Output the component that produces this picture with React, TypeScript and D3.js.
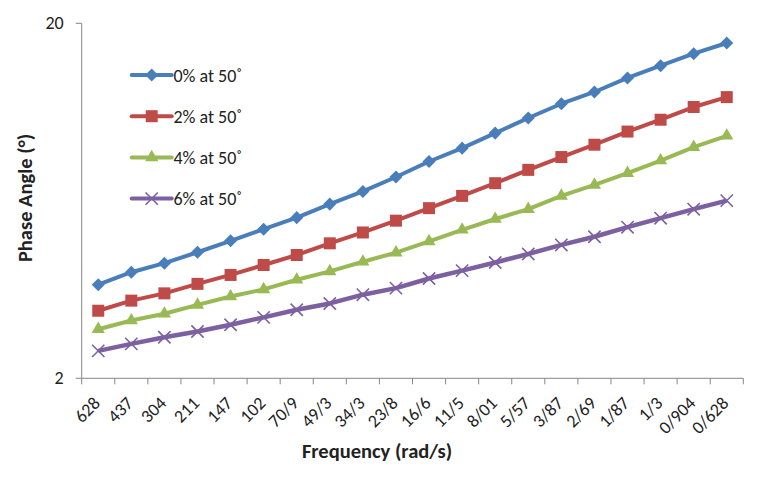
import React, { useEffect, useRef } from "react";
import * as d3 from "d3";

// frequency categories (rad/s), as printed on the axis
const frequencies = [
  "628", "437", "304", "211", "147", "102", "70/9", "49/3", "34/3", "23/8",
  "16/6", "11/5", "8/01", "5/57", "3/87", "2/69", "1/87", "1/3", "0/904", "0/628",
];

// phase angle (deg)
const phase0 = [3.67, 3.98, 4.22, 4.53, 4.88, 5.26, 5.67, 6.19, 6.72, 7.38, 8.16, 8.9, 9.81, 10.82, 11.87, 12.81, 14.03, 15.19, 16.42, 17.6];
const phase2 = [3.1, 3.31, 3.47, 3.69, 3.91, 4.17, 4.45, 4.8, 5.15, 5.56, 6.03, 6.53, 7.09, 7.73, 8.4, 9.1, 9.91, 10.7, 11.62, 12.39];
const phase4 = [2.75, 2.91, 3.04, 3.22, 3.4, 3.56, 3.79, 4.0, 4.26, 4.52, 4.86, 5.24, 5.62, 5.99, 6.53, 7.01, 7.57, 8.21, 8.96, 9.64];
const phase6 = [2.39, 2.5, 2.61, 2.71, 2.83, 2.97, 3.12, 3.25, 3.44, 3.59, 3.82, 4.02, 4.24, 4.48, 4.75, 5.01, 5.33, 5.65, 5.99, 6.33];

const seriesNames = ["0% at 50˚", "2% at 50˚", "4% at 50˚", "6% at 50˚"];
const yTicks = [2, 20];

const colors = ["#4a7ebb", "#be4b48", "#98b954", "#7d60a0"];
const axisColor = "#868686";
const font = "Carlito, Calibri, 'Liberation Sans', Arial, sans-serif";

let width = 761,
  height = 484;
let margin = { top: 23.3, right: 17.7, bottom: 105.7, left: 81.7 };

let drawChart = (node: SVGSVGElement) => {
  const svg = d3.select(node);
  svg.selectAll("*").remove();

  const series = [phase0, phase2, phase4, phase6];

  let xScale = d3.scaleBand<string>()
    .domain(frequencies)
    .range([margin.left, width - margin.right])
    .padding(0);
  let yScale = d3.scaleLog()
    .domain([2, 20])
    .range([height - margin.bottom, margin.top]);

  const x0 = margin.left,
    x1 = width - margin.right,
    yb = height - margin.bottom;

  // y axis
  let gy = svg.append("g");
  gy.append("line")
    .attr("x1", x0).attr("x2", x0)
    .attr("y1", yScale(20)).attr("y2", yb)
    .attr("stroke", axisColor).attr("stroke-width", 1);
  gy.selectAll(".ytick")
    .data(yTicks)
    .enter()
    .append("line")
    .attr("x1", x0 - 6).attr("x2", x0)
    .attr("y1", d => yScale(d)).attr("y2", d => yScale(d))
    .attr("stroke", axisColor);
  gy.selectAll(".ylab")
    .data(yTicks)
    .enter()
    .append("text")
    .attr("x", x0 - 18)
    .attr("y", d => yScale(d) + 6)
    .attr("text-anchor", "end")
    .attr("font-family", font)
    .attr("font-size", 18)
    .attr("fill", "#222")
    .text(d => d);

  // x axis, ticks between categories like Excel does
  let gx = svg.append("g");
  gx.append("line")
    .attr("x1", x0).attr("x2", x1)
    .attr("y1", yb).attr("y2", yb)
    .attr("stroke", axisColor);
  const bounds = frequencies.map(f => xScale(f) as number).concat([x1]);
  gx.selectAll(".xtick")
    .data(bounds)
    .enter()
    .append("line")
    .attr("x1", d => d).attr("x2", d => d)
    .attr("y1", yb).attr("y2", yb + 6)
    .attr("stroke", axisColor);
  const cx = (f: string) => (xScale(f) as number) + xScale.bandwidth() / 2;
  gx.selectAll(".xlab")
    .data(frequencies)
    .enter()
    .append("text")
    .attr("transform", d => "translate(" + (cx(d) + 3) + "," + (yb + 26) + ") rotate(-45)")
    .attr("text-anchor", "end")
    .attr("font-family", font)
    .attr("font-size", 18)
    .attr("fill", "#222")
    .text(d => d);

  // axis titles
  svg.append("text")
    .attr("transform", "translate(32,198) rotate(-90)")
    .attr("text-anchor", "middle")
    .attr("font-family", font)
    .attr("font-weight", "bold")
    .attr("font-size", 20.5)
    .attr("fill", "#222")
    .text("Phase Angle (°)");
  svg.append("text")
    .attr("x", 377)
    .attr("y", 458)
    .attr("text-anchor", "middle")
    .attr("font-family", font)
    .attr("font-weight", "bold")
    .attr("font-size", 20.5)
    .attr("fill", "#222")
    .text("Frequency (rad/s)");

  const symbols = [
    { type: d3.symbolSquare, size: 85, rotate: 45, stroke: false },
    { type: d3.symbolSquare, size: 144, rotate: 0, stroke: false },
    { type: d3.symbolTriangle, size: 75, rotate: 0, stroke: false },
    { type: d3.symbolTimes, size: 100, rotate: 0, stroke: true },
  ];

  const line = d3.line<number>()
    .x((d, i) => cx(frequencies[i]))
    .y(d => yScale(d));

  let drawMarker = (g: any, i: number, x: number, y: number) => {
    const s = symbols[i];
    const p = g.append("path")
      .attr("d", d3.symbol().type(s.type).size(s.size)())
      .attr("transform", "translate(" + x + "," + y + ") rotate(" + s.rotate + ")");
    if (s.stroke) {
      p.attr("fill", "none").attr("stroke", colors[i]).attr("stroke-width", 1.6);
    } else {
      p.attr("fill", colors[i]);
    }
  };

  // series
  series.forEach((data, i) => {
    let g = svg.append("g");
    g.append("path")
      .datum(data)
      .attr("d", line)
      .attr("fill", "none")
      .attr("stroke", colors[i])
      .attr("stroke-width", i === 3 ? 4.5 : 4)
      .attr("stroke-linejoin", "round");
    data.forEach((v, j) => drawMarker(g, i, cx(frequencies[j]), yScale(v)));
  });

  // legend
  seriesNames.forEach((name, i) => {
    const ly = 75 + i * 41.2;
    let g = svg.append("g");
    g.append("line")
      .attr("x1", 131.7).attr("x2", 171.7)
      .attr("y1", ly).attr("y2", ly)
      .attr("stroke", colors[i]).attr("stroke-width", 4)
      .attr("stroke-linecap", "round");
    drawMarker(g, i, 151.7, ly);
    g.append("text")
      .attr("x", 173.5)
      .attr("y", ly + 6.5)
      .attr("font-family", font)
      .attr("font-size", 18)
      .attr("fill", "#222")
      .text(name);
  });
};

export default function App() {
  const ref = useRef<SVGSVGElement>(null);
  useEffect(() => {
    if (ref.current) drawChart(ref.current);
  }, []);
  return (
    <svg
      ref={ref}
      width={width}
      height={height}
      style={{ position: "absolute", left: 0, top: 0, background: "#fff" }}
    />
  );
}
